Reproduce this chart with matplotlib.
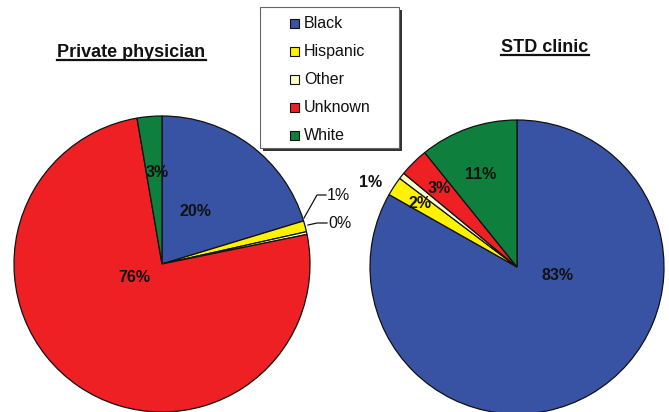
import matplotlib
matplotlib.use("Agg")
import matplotlib.pyplot as plt
from matplotlib.patches import Rectangle
from matplotlib.lines import Line2D

plt.rcParams['font.family'] = ['Liberation Sans', 'DejaVu Sans']

# Race/ethnicity breakdown by reporting source (percent)
categories = ["Black", "Hispanic", "Other", "Unknown", "White"]
private_physician = [20.3, 1.2, 0.3, 75.5, 2.7]
std_clinic = [83.2, 2.1, 0.7, 3.2, 10.8]
titles = ["Private physician", "STD clinic"]

colors = ["#3953A4", "#FFF200", "#FFFFCC", "#EE2024", "#0F7F3E"]

W, H = 669, 412
fig = plt.figure(figsize=(W / 100, H / 100), dpi=100)
ax = fig.add_axes([0, 0, 1, 1])


def Y(py):
    return H - py


def draw_pie(values, cx, cy, r):
    ax.pie(values, colors=colors, startangle=90, counterclock=False,
           center=(cx, Y(cy)), radius=r,
           wedgeprops=dict(edgecolor="#111111", linewidth=0.9))


draw_pie(private_physician, 162, 264, 148)
draw_pie(std_clinic, 517, 267, 147)

# percent labels (bold, inside/near the wedges)
left_pos = {0: (195, 211), 3: (134, 278), 4: (157, 172)}
right_pos = {0: (557, 276), 1: (420, 203), 2: (371, 182), 3: (439, 188), 4: (481, 174)}
for i, (x, y) in left_pos.items():
    ax.text(x, Y(y), f"{round(private_physician[i])}%", ha="center", va="center",
            fontsize=11.5, fontweight="bold", color="#111111")
for i, (x, y) in right_pos.items():
    ax.text(x, Y(y), f"{round(std_clinic[i])}%", ha="center", va="center",
            fontsize=11.5, fontweight="bold", color="#111111")

# leader-line labels for the thin slices of the left pie
leaders = [(1, [(304, 218), (317, 195), (326, 195)], (327, 195)),
           (2, [(308, 225), (317, 223), (327, 223)], (328, 223))]
for i, pts, (tx, ty) in leaders:
    ax.add_line(Line2D([p[0] for p in pts], [Y(p[1]) for p in pts],
                       color="#111111", lw=0.9))
    ax.text(tx, Y(ty), f"{round(private_physician[i])}%", ha="left", va="center",
            fontsize=11.5, color="#111111")

# titles with underline
title_pos = [(131.5, 57, 60), (545, 52, 55)]
title_texts = []
for t, (x, yb, yu) in zip(titles, title_pos):
    title_texts.append((ax.text(x, Y(yb), t, ha="center", va="baseline",
                                fontsize=13, fontweight="bold", color="#111111"), yu))

# legend box with drop shadow
lx0, ly0, lx1, ly1 = 260, 7, 399, 148
ax.add_patch(Rectangle((lx0 + 2.5, Y(ly1 + 2.5)), lx1 - lx0, ly1 - ly0,
                       facecolor="#333333", edgecolor="none", zorder=5))
ax.add_patch(Rectangle((lx0, Y(ly1)), lx1 - lx0, ly1 - ly0,
                       facecolor="white", edgecolor="#666666", lw=0.8, zorder=6))
for k, (name, c) in enumerate(zip(categories, colors)):
    yc = 23 + 28 * k
    ax.add_patch(Rectangle((290, Y(yc + 4.5)), 9, 9, facecolor=c,
                           edgecolor="#111111", lw=0.8, zorder=7))
    ax.text(304, Y(yc), name, ha="left", va="center", fontsize=11.5,
            color="#111111", zorder=7)

ax.set_xlim(0, W)
ax.set_ylim(0, H)
ax.set_aspect("auto")
ax.axis("off")

fig.canvas.draw()
renderer = fig.canvas.get_renderer()
for txt, yu in title_texts:
    bb = txt.get_window_extent(renderer)
    ax.add_line(Line2D([bb.x0, bb.x1], [Y(yu), Y(yu)], color="#111111", lw=1.6))

fig.savefig("out.png", dpi=100)
